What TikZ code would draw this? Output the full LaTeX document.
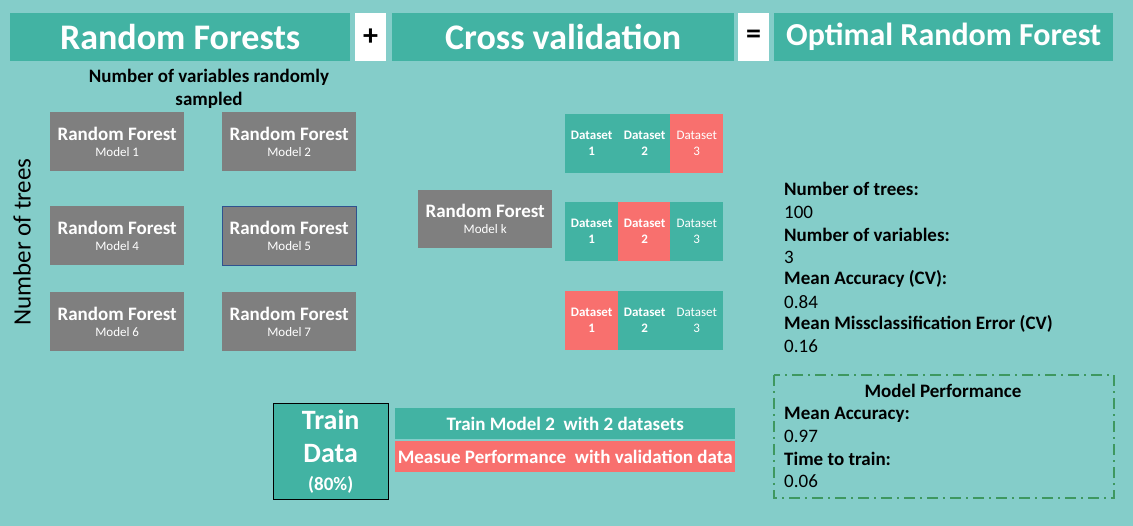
\documentclass[tikz,border=0pt]{standalone}
\usepackage{fontspec}
\setmainfont{Carlito}
\definecolor{bgteal}{RGB}{132,205,201}
\definecolor{boxteal}{RGB}{66,179,163}
\definecolor{cellred}{RGB}{248,112,110}
\definecolor{rfgrey}{RGB}{127,127,127}
\definecolor{perfgreen}{RGB}{62,152,96}
\definecolor{selblue}{RGB}{47,82,143}
\newcommand{\rfmodel}[1]{{\bfseries\fontsize{19}{21}\selectfont Random Forest}\\[4pt]{\fontsize{13}{15}\selectfont Model #1}}

\begin{document}
\begin{tikzpicture}[x=1pt,y=-1pt,
    banner/.style={fill=boxteal,text=white,anchor=north west,inner sep=0pt,minimum height=48pt,font=\bfseries\fontsize{36}{40}\selectfont},
    opbox/.style={fill=white,anchor=north west,inner sep=0pt,minimum width=31pt,minimum height=48pt,font=\bfseries\fontsize{30}{32}\selectfont},
    rfbox/.style={fill=rfgrey,text=white,anchor=north west,inner sep=0pt,minimum width=134pt,minimum height=59pt,align=center},
    cell/.style={text=white,anchor=north west,inner sep=0pt,minimum width=53pt,minimum height=59pt,align=center,font=\fontsize{13}{16}\selectfont},
    bar/.style={text=white,anchor=north west,inner sep=0pt,minimum width=340pt,minimum height=31pt,font=\bfseries\fontsize{19}{21}\selectfont},
    info/.style={anchor=west,inner sep=0pt,font=\fontsize{19}{21}\selectfont}]
  \fill[bgteal] (0,0) rectangle (1133,526);
  \useasboundingbox (0,0) rectangle (1133,526);

  \node[banner,minimum width=340pt] (rf) at (10,13) {Random Forests};
  \node[opbox] (plus) at (355,13) {+};
  \node[banner,minimum width=342pt] (cv) at (392,13) {Cross validation};
  \node[opbox] (eq) at (738,13) {=};
  \node[banner,minimum width=339pt,font=\bfseries\fontsize{32}{36}\selectfont] (opt) at (774,13) {Optimal Random Forest};

  \node[align=center,font=\bfseries\fontsize{19}{23}\selectfont] (vars) at (209,89) {Number of variables randomly\\sampled};
  \node[rotate=90,font=\fontsize{25}{28}\selectfont] (trees) at (22,242) {Number of trees};

  \foreach \n/\x/\y in {1/50/112,2/222/112,4/50/206,5/222/206,6/50/292,7/222/292}
    \node[rfbox] (m\n) at (\x,\y) {\rfmodel{\n}};
  \draw[selblue] (m5.north west) rectangle (m5.south east);
  \node[rfbox,minimum height=58pt] (mk) at (418,190) {\rfmodel{k}};

  \foreach \r/\y/\v in {1/114/3,2/202/2,3/291/1}
    \foreach \c/\x in {1/565,2/618,3/670}{
      \ifnum\c=\v\relax \def\cellfill{cellred}\else \def\cellfill{boxteal}\fi
      \ifnum\c=3\relax \def\cellfont{\mdseries}\else \def\cellfont{\bfseries}\fi
      \node[cell,fill=\cellfill] (d\r\c) at (\x,\y) {\cellfont Dataset\\\cellfont \c};
    }

  \foreach \y/\t in {189/Number of trees:,235/Number of variables:,279/Mean Accuracy (CV):,324/Mean Missclassification Error (CV)}
    \node[info,font=\bfseries\fontsize{19}{21}\selectfont] (lbl\y) at (784,\y) {\t};
  \foreach \y/\t in {212/100,257/3,302/0.84,346/0.16}
    \node[info] (val\y) at (784,\y) {\t};

  \draw[perfgreen,line width=2pt,dash pattern=on 11pt off 5pt on 2pt off 5pt] (774,375) rectangle (1114,498);
  \node[font=\bfseries\fontsize{19}{21}\selectfont] (perf) at (943,391) {Model Performance};
  \node[info,font=\bfseries\fontsize{19}{21}\selectfont] (acc) at (784,415) {Mean Accuracy:};
  \node[info] (accv) at (784,436) {0.97};
  \node[info,font=\bfseries\fontsize{19}{21}\selectfont] (time) at (784,459) {Time to train:};
  \node[info] (timev) at (784,481) {0.06};

  \node[draw=black,fill=boxteal,text=white,anchor=north west,inner sep=0pt,minimum width=115pt,minimum height=96pt,align=center,font=\bfseries\fontsize{28}{30}\selectfont] (train) at (273,403)
    {Train\\[3pt]Data\\[-2pt]{\fontsize{19}{20}\selectfont (80\%)}};
  \node[bar,fill=boxteal] (fit) at (395,408) {Train Model 2\ \ with 2 datasets};
  \node[bar,fill=cellred] (meas) at (395,441) {Measue Performance\ \ with validation data};
\end{tikzpicture}
\end{document}
